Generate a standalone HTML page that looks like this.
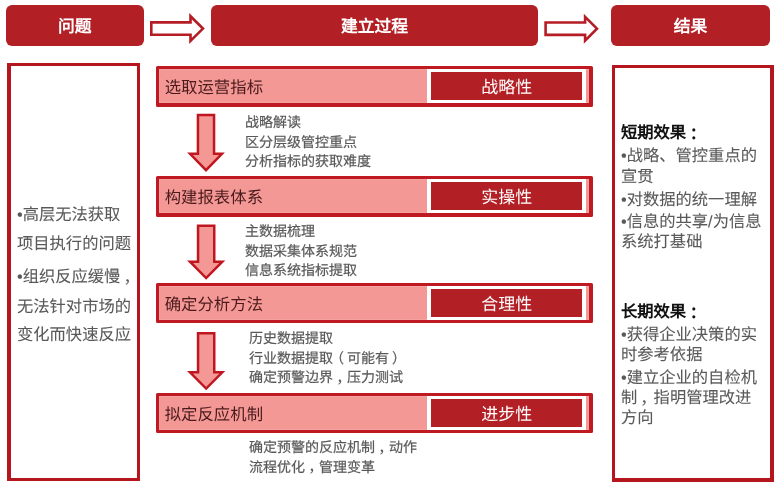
<!DOCTYPE html>
<html lang="zh-CN">
<head>
<meta charset="utf-8">
<style>
*{margin:0;padding:0;box-sizing:border-box}
html,body{width:780px;height:489px;background:#fff;overflow:hidden;font-family:"Liberation Sans",sans-serif;text-rendering:geometricPrecision}
.a{position:absolute}
.hd{position:absolute;background:#B21F25;border-radius:6px;color:#fff;font-weight:bold;font-size:16.8px;line-height:44px;text-align:center;top:5px;height:40.5px}
.panel{position:absolute;border:3.4px solid #B5151D;background:#fff}
.pb{position:absolute;left:155.8px;width:437.4px;height:41.3px;background:#F49896;border:3.4px solid #BF1A22;border-right-width:4.3px;border-bottom-width:4.1px;box-shadow:inset 0 0 0 1px rgba(255,255,255,0.1);border-radius:1.5px}
.pb.s{height:40.3px;border-bottom-width:3.3px}
.pb .t{position:absolute;left:5.7px;top:2px;line-height:34px;font-size:16.4px;color:#4a1a1c;white-space:nowrap}
.pb .w{position:absolute;left:267.8px;top:0;width:159.1px;bottom:0;background:#fff}
.pb .d{position:absolute;left:271.8px;top:3.2px;width:151.7px;bottom:3.2px;background:#B21F25;color:#fff;font-size:17px;text-align:center;line-height:28.4px;padding-top:1.8px}
.ds{position:absolute;font-size:14px;color:#595959;line-height:19.7px;white-space:nowrap}
.lp{position:absolute;left:17px;font-size:16.3px;color:#595959;white-space:nowrap;line-height:16px}
.rp{position:absolute;left:621px;font-size:16.3px;color:#595959;white-space:nowrap;line-height:16px}
.rt{color:#111;font-weight:bold}
.cm{position:relative;left:3px;top:0.5px}
.ds .cm{left:3.5px}
.pl{position:relative;left:-3px}
.pr{position:relative;left:3px}
.co{position:relative;left:3.5px;top:1px}
svg{position:absolute;left:0;top:0}
.ds{-webkit-text-stroke:0.2px #595959}
.lp,.rp{-webkit-text-stroke:0.08px #595959}
.rp.rt{-webkit-text-stroke:0}
.ds,.lp,.rp,.hd,.pb{will-change:transform}
</style>
</head>
<body>
<!-- headers -->
<div class="hd" style="left:6px;width:137.6px">问题</div>
<div class="hd" style="left:210.5px;width:327px">建立过程</div>
<div class="hd" style="left:611.3px;width:159px">结果</div>

<!-- side panels -->
<div class="panel" style="left:6.8px;top:62.7px;width:133.4px;height:418.5px;border-left-width:4.4px;border-right-width:3.5px;border-bottom-width:3.5px"></div>
<div class="panel" style="left:611.7px;top:64.7px;width:162.6px;height:417.5px;border-left-width:3.5px;border-right-width:4.6px;border-bottom-width:4.5px"></div>

<!-- process boxes -->
<div class="pb" style="top:65.7px"><div class="t">选取运营指标</div><div class="w"></div><div class="d">战略性</div></div>
<div class="pb" style="top:175.7px"><div class="t">构建报表体系</div><div class="w"></div><div class="d">实操性</div></div>
<div class="pb s" style="top:282.7px"><div class="t">确定分析方法</div><div class="w"></div><div class="d">合理性</div></div>
<div class="pb s" style="top:392.7px"><div class="t">拟定反应机制</div><div class="w"></div><div class="d">进步性</div></div>

<svg width="780" height="489" viewBox="0 0 780 489">
  <!-- right arrows -->
  <path d="M151.3 22.4 H190.5 V16.22 L202.96 28.6 L190.5 40.98 V34.8 H151.3 Z" fill="#fff" stroke="#B51C24" stroke-width="2.6"/>
  <path d="M545.6 22.5 H585.1 V16.84 L596.96 28.7 L585.1 40.56 V34.9 H545.6 Z" fill="#fff" stroke="#B51C24" stroke-width="2.6"/>
  <!-- down arrows -->
  <path d="M197.95 115.05 L214.05 115.05 L214.05 153.75 L221.95 153.75 L206.00 170.20 L190.05 153.75 L197.95 153.75 Z" fill="#F49896" stroke="#C0161F" stroke-width="2.5"/>
  <path d="M198.05 225.65 L214.25 225.65 L214.25 261.65 L222.31 261.65 L206.15 278.02 L189.99 261.65 L198.05 261.65 Z" fill="#F49896" stroke="#C0161F" stroke-width="2.5"/>
  <path d="M198.05 333.25 L214.25 333.25 L214.25 372.35 L222.29 372.35 L206.15 388.53 L190.01 372.35 L198.05 372.35 Z" fill="#F49896" stroke="#C0161F" stroke-width="2.5"/>
</svg>

<!-- descriptions -->
<div class="ds" style="left:244.8px;top:112.5px">战略解读<br>区分层级管控重点<br>分析指标的获取难度</div>
<div class="ds" style="left:244.8px;top:222.3px">主数据梳理<br>数据采集体系规范<br>信息系统指标提取</div>
<div class="ds" style="left:249px;top:328.5px">历史数据提取<br>行业数据提取<span class="pl">（</span>可能有<span class="pr">）</span><br>确定预警边界<span class="cm">，</span>压力测试</div>
<div class="ds" style="left:249px;top:438px">确定预警的反应机制<span class="cm">，</span>动作<br>流程优化<span class="cm">，</span>管理变革</div>

<!-- left panel text -->
<div class="lp" style="top:207px">•高层无法获取</div>
<div class="lp" style="top:235.5px">项目执行的问题</div>
<div class="lp" style="top:269.3px">•组织反应缓慢<span class="cm">，</span></div>
<div class="lp" style="top:298.9px">无法针对市场的</div>
<div class="lp" style="top:327.4px">变化而快速反应</div>

<!-- right panel text -->
<div class="rp rt" style="top:125px">短期效果<span class="co">：</span></div>
<div class="rp" style="top:148px">•战略、管控重点的</div>
<div class="rp" style="top:168.5px">宣贯</div>
<div class="rp" style="top:192px">•对数据的统一理解</div>
<div class="rp" style="top:214px">•信息的共享/为信息</div>
<div class="rp" style="top:234px">系统打基础</div>
<div class="rp rt" style="top:304px">长期效果<span class="co">：</span></div>
<div class="rp" style="top:327px">•获得企业决策的实</div>
<div class="rp" style="top:347px">时参考依据</div>
<div class="rp" style="top:370px">•建立企业的自检机</div>
<div class="rp" style="top:390px">制<span class="cm">，</span>指明管理改进</div>
<div class="rp" style="top:410px">方向</div>
</body>
</html>
